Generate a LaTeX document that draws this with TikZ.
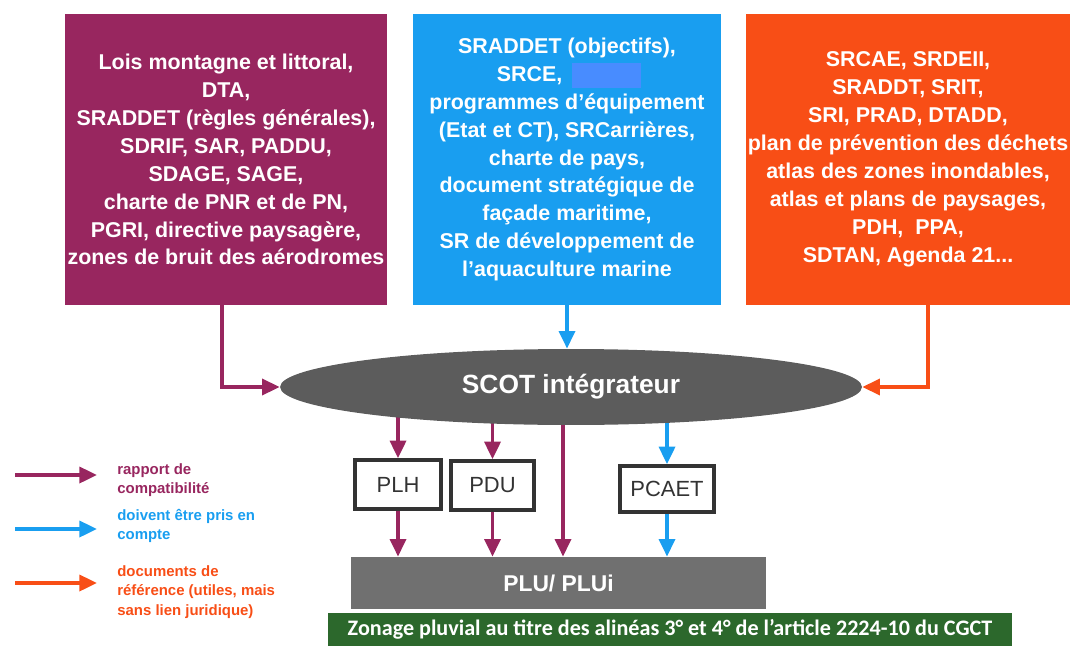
\documentclass[tikz,border=0pt]{standalone}
\usepackage{fontspec}
\setmainfont{Liberation Sans}
\newfontfamily\zonefont{Carlito}
\usetikzlibrary{arrows.meta,shapes.geometric,backgrounds}

\definecolor{prune}{RGB}{152,38,95}
\definecolor{ciel}{RGB}{25,158,240}
\definecolor{brique}{RGB}{248,78,22}
\definecolor{ardoise}{RGB}{92,92,92}
\definecolor{plugris}{RGB}{112,112,112}
\definecolor{zonevert}{RGB}{44,104,44}
\definecolor{masque}{RGB}{72,140,255}

\begin{document}
\begin{tikzpicture}[x=0.02cm, y=-0.02cm, >={Triangle[length=10pt,width=9pt]},
	docbox/.style={inner sep=0pt, align=center, text=white, font=\bfseries\fontsize{12.2}{15.9}\selectfont, minimum height=5.82cm},
	planbox/.style={draw=black!80, line width=2pt, fill=white, text=black!80, font=\fontsize{12.5}{15}\selectfont, inner sep=0pt},
	flechecompat/.style={->, prune, line width=2.2pt},
	flecheprise/.style={->, ciel, line width=2.2pt},
	flecheref/.style={->, brique, line width=2.2pt},
	legende/.style={anchor=west, align=left, inner sep=0pt, font=\bfseries\fontsize{8.5}{11}\selectfont}]
	\useasboundingbox (0,0) rectangle (1070,645);
	% documents de rang superieur
	\node[docbox, fill=prune, minimum width=6.44cm] (lois) at (226,159.5) {Lois montagne et littoral,\\DTA,\\SRADDET (règles générales),\\SDRIF, SAR, PADDU,\\SDAGE, SAGE,\\charte de PNR et de PN,\\PGRI, directive paysagère,\\zones de bruit des aérodromes};
	\node[docbox, fill=ciel, minimum width=6.16cm] (srce) at (567,159.5) {SRADDET (objectifs),\\SRCE,\makebox[1.5cm]{}\\programmes d’équipement\\(Etat et CT), SRCarrières,\\charte de pays,\\document stratégique de\\façade maritime,\\SR de développement de\\l’aquaculture marine};
	\node[fill=masque, inner sep=0pt, minimum width=1.38cm, minimum height=0.5cm] (cache) at (606.5,75.5) {};
	\node[docbox, fill=brique, minimum width=6.48cm] (srcae) at (908,159.5) {SRCAE, SRDEII,\\SRADDT, SRIT,\\SRI, PRAD, DTADD,\\plan de prévention des déchets\\atlas des zones inondables,\\atlas et plans de paysages,\\PDH,~ PPA,\\SDTAN, Agenda 21...};
	% SCOT et documents locaux
	\node[ellipse, fill=ardoise, inner sep=0pt, minimum width=11.64cm, minimum height=1.52cm, text=white, font=\bfseries\fontsize{15}{18}\selectfont] (scot) at (571,387) {SCOT intégrateur};
	\node[planbox, minimum width=1.72cm, minimum height=0.98cm] (plh) at (398,484.5) {PLH};
	\node[planbox, minimum width=1.66cm, minimum height=0.98cm] (pdu) at (492.5,485.5) {PDU};
	\node[planbox, minimum width=1.88cm, minimum height=0.92cm] (pcaet) at (667,489) {PCAET};
	\node[fill=plugris, minimum width=8.3cm, minimum height=1.04cm, text=white, font=\bfseries\fontsize{13}{15}\selectfont] (plu) at (558.5,583) {PLU/ PLUi};
	\node[fill=zonevert, minimum width=13.68cm, minimum height=0.66cm, text=white, font=\zonefont\bfseries\fontsize{12.6}{14}\selectfont] (zonage) at (670,629.5) {Zonage pluvial au titre des alinéas 3° et 4° de l’article 2224-10 du CGCT};
	\coordinate (milieu) at (563,387);
	% liens
	\draw[flechecompat] (lois.south -| 222,0) |- (scot.west);
	\draw[flecheprise] (srce.south) -- (srce.south |- scot.north);
	\draw[flecheref] (srcae.south -| 928,0) |- (scot.east);
	\begin{scope}[on background layer]
		\draw[flechecompat] (plh.north |- scot.center) -- (plh.north);
		\draw[flechecompat] (pdu.north |- scot.center) -- (pdu.north);
		\draw[flechecompat] (milieu) -- (milieu |- plu.north);
		\draw[flecheprise] (pcaet.north |- scot.center) -- (pcaet.north);
	\end{scope}
	\draw[flechecompat] (plh.south) -- (plh.south |- plu.north);
	\draw[flechecompat] (pdu.south) -- (pdu.south |- plu.north);
	\draw[flecheprise] (pcaet.south) -- (pcaet.south |- plu.north);
	% legende
	\coordinate (lc1) at (15,475); \coordinate (lc2) at (97,475);
	\coordinate (lp1) at (15,529); \coordinate (lp2) at (97,529);
	\coordinate (lr1) at (15,583); \coordinate (lr2) at (97,583);
	\draw[flechecompat] (lc1) -- (lc2);
	\draw[flecheprise] (lp1) -- (lp2);
	\draw[flecheref] (lr1) -- (lr2);
	\node[legende, text=prune] (txtcompat) at (117,480) {rapport de\\compatibilité};
	\node[legende, text=ciel] (txtprise) at (117,526) {doivent être pris en\\compte};
	\node[legende, text=brique] (txtref) at (117,592) {documents de\\référence (utiles, mais\\sans lien juridique)};
\end{tikzpicture}
\end{document}
